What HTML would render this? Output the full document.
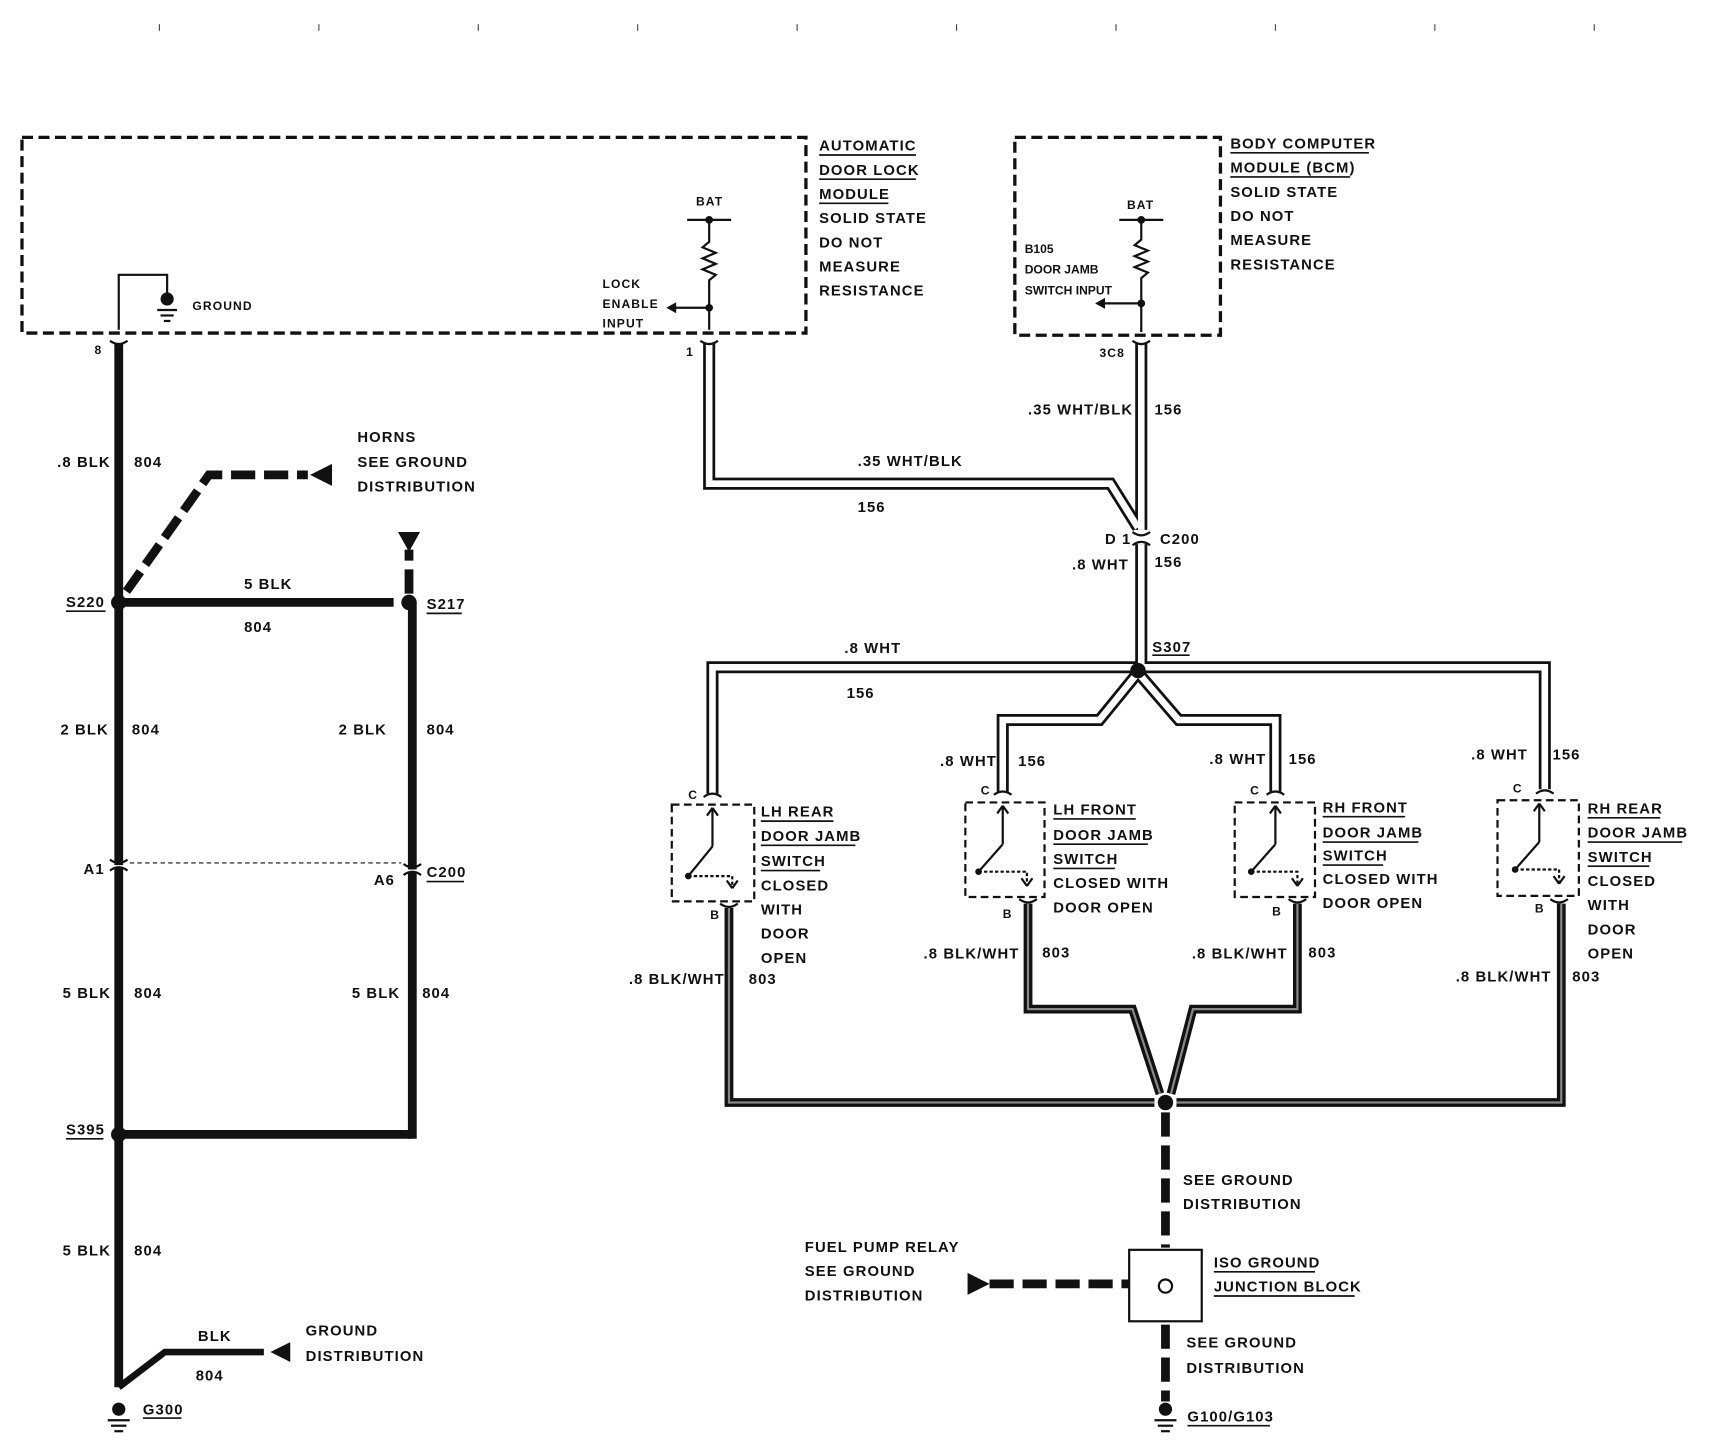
<!DOCTYPE html>
<html><head><meta charset="utf-8"><style>
html,body{margin:0;padding:0;background:#fff;}
svg{display:block}
text{font-family:"Liberation Sans",sans-serif;font-weight:bold;font-size:13.5px;fill:#111;letter-spacing:1px}
.s{font-size:11px}
</style></head><body>
<svg width="1724" height="1440" viewBox="0 0 1568 1310" preserveAspectRatio="none" xmlns="http://www.w3.org/2000/svg">
<rect width="1568" height="1310" fill="#fff"/>
<g stroke="#444" stroke-width="1">
<line x1="145" y1="22" x2="145" y2="28"/><line x1="290" y1="22" x2="290" y2="28"/><line x1="435" y1="22" x2="435" y2="28"/><line x1="580" y1="22" x2="580" y2="28"/><line x1="725" y1="22" x2="725" y2="28"/><line x1="870" y1="22" x2="870" y2="28"/><line x1="1015" y1="22" x2="1015" y2="28"/><line x1="1160" y1="22" x2="1160" y2="28"/><line x1="1305" y1="22" x2="1305" y2="28"/><line x1="1450" y1="22" x2="1450" y2="28"/>
</g>
<!-- module boxes -->
<g fill="none" stroke="#111" stroke-width="3" stroke-dasharray="10,5">
<rect x="20" y="125" width="713" height="178"/>
<rect x="923" y="125" width="187" height="180"/>
<rect x="611" y="732" width="75" height="88" stroke-width="2" stroke-dasharray="7,4"/>
<rect x="878" y="730" width="72" height="86" stroke-width="2" stroke-dasharray="7,4"/>
<rect x="1123" y="730" width="73" height="86" stroke-width="2" stroke-dasharray="7,4"/>
<rect x="1362" y="728" width="74" height="87" stroke-width="2" stroke-dasharray="7,4"/>
</g>
<!-- module text -->
<text x="745" y="137">AUTOMATIC</text><text x="745" y="159">DOOR LOCK</text><text x="745" y="181">MODULE</text>
<g stroke="#111" stroke-width="1.5"><line x1="745" y1="141" x2="833" y2="141"/><line x1="745" y1="163" x2="833" y2="163"/><line x1="745" y1="185" x2="808" y2="185"/>
<line x1="1119" y1="139" x2="1245" y2="139"/><line x1="1119" y1="161" x2="1228" y2="161"/></g>
<text x="745" y="203">SOLID STATE</text><text x="745" y="225">DO NOT</text><text x="745" y="247">MEASURE</text><text x="745" y="269">RESISTANCE</text>
<text x="1119" y="135">BODY COMPUTER</text><text x="1119" y="157">MODULE (BCM)</text><text x="1119" y="179">SOLID STATE</text><text x="1119" y="201">DO NOT</text><text x="1119" y="223">MEASURE</text><text x="1119" y="245">RESISTANCE</text>
<!-- inside ADLM -->
<g stroke="#111" stroke-width="2" fill="none">
<polyline points="108,300 108,250 152,250 152,268"/>
<line x1="143" y1="282" x2="161" y2="282"/><line x1="146" y1="287" x2="158" y2="287"/><line x1="149" y1="292" x2="155" y2="292"/>
<line x1="625" y1="200" x2="665" y2="200"/>
<polyline points="645,200 645,220 639,225 651,230 639,235 651,240 639,245 651,250 645,255 645,300"/>
<line x1="645" y1="280" x2="612" y2="280"/>
<line x1="1018" y1="200" x2="1058" y2="200"/>
<polyline points="1038,200 1038,218 1032,223 1044,228 1032,233 1044,238 1032,243 1044,248 1038,253 1038,302"/>
<line x1="1038" y1="276" x2="1002" y2="276"/>
</g>
<circle cx="152" cy="272" r="6" fill="#111"/>
<circle cx="645" cy="200" r="3.5" fill="#111"/><circle cx="645" cy="280" r="3.5" fill="#111"/>
<circle cx="1038" cy="200" r="3.5" fill="#111"/><circle cx="1038" cy="276" r="3.5" fill="#111"/>
<polygon points="606,280 615,275 615,285" fill="#111"/><polygon points="996,276 1005,271 1005,281" fill="#111"/>
<text x="175" y="282" class="s">GROUND</text>
<text x="633" y="187" class="s">BAT</text><text x="1025" y="190" class="s">BAT</text>
<text x="548" y="262" class="s">LOCK</text><text x="548" y="280" class="s">ENABLE</text><text x="548" y="298" class="s">INPUT</text>
<text x="932" y="230" class="s" style="letter-spacing:0">B105</text><text x="932" y="249" class="s" style="letter-spacing:0">DOOR JAMB</text><text x="932" y="268" class="s" style="letter-spacing:0">SWITCH INPUT</text>
<!-- left black wires -->
<g stroke="#111" stroke-width="8" fill="none">
<line x1="108" y1="312" x2="108" y2="1262"/>
<line x1="375" y1="548" x2="375" y2="1036"/>
<line x1="108" y1="548" x2="358" y2="548"/>
<line x1="108" y1="1032" x2="375" y2="1032"/>
<polyline points="108,1262 150,1230 240,1230" stroke-width="6"/>
</g>
<g stroke="#111" stroke-width="8" fill="none" stroke-dasharray="22,8">
<polyline points="115,538 190,432 280,432"/>
<line x1="372" y1="540" x2="372" y2="500"/>
</g>
<polygon points="282,432 302,422 302,442" fill="#111"/>
<polygon points="362,484 382,484 372,502" fill="#111"/>
<polygon points="246,1230 264,1221 264,1239" fill="#111"/>
<line x1="118" y1="785" x2="365" y2="785" stroke="#111" stroke-width="1" stroke-dasharray="4,3"/>
<g fill="#111"><circle cx="108" cy="548" r="7"/><circle cx="372" cy="548" r="7"/><circle cx="108" cy="1032" r="7"/></g>
<g stroke="#fff" stroke-width="2"><line x1="100" y1="788" x2="116" y2="788"/><line x1="367" y1="792" x2="383" y2="792"/></g>
<g stroke="#111" stroke-width="2" fill="none"><path d="M100,782 q8,6 16,0"/><path d="M100,792 q8,-6 16,0"/><path d="M367,786 q8,6 16,0"/><path d="M367,796 q8,-6 16,0"/><path d="M100,310 q8,6 16,0"/></g>
<!-- grounds -->
<g stroke="#111" stroke-width="2"><line x1="98" y1="1292" x2="118" y2="1292"/><line x1="101" y1="1297" x2="115" y2="1297"/><line x1="104" y1="1302" x2="112" y2="1302"/>
<line x1="1050" y1="1292" x2="1070" y2="1292"/><line x1="1053" y1="1297" x2="1067" y2="1297"/><line x1="1056" y1="1302" x2="1064" y2="1302"/></g>
<circle cx="108" cy="1282" r="6" fill="#111"/><circle cx="1060" cy="1282" r="6" fill="#111"/>
<!-- left labels -->
<text x="86" y="322" class="s">8</text>
<text x="52" y="425">.8 BLK</text><text x="122" y="425">804</text>
<text x="325" y="402">HORNS</text><text x="325" y="425">SEE GROUND</text><text x="325" y="447">DISTRIBUTION</text>
<text x="60" y="552">S220</text><text x="388" y="554">S217</text>
<g stroke="#111" stroke-width="1.5"><line x1="60" y1="556" x2="96" y2="556"/><line x1="388" y1="558" x2="420" y2="558"/><line x1="388" y1="802" x2="422" y2="802"/><line x1="60" y1="1036" x2="94" y2="1036"/><line x1="130" y1="1290" x2="165" y2="1290"/><line x1="1104" y1="1157" x2="1196" y2="1157"/><line x1="1104" y1="1179" x2="1232" y2="1179"/><line x1="1080" y1="1297" x2="1155" y2="1297"/><line x1="1048" y1="596" x2="1082" y2="596"/></g>
<text x="222" y="536">5 BLK</text><text x="222" y="575">804</text>
<text x="55" y="668">2 BLK</text><text x="120" y="668">804</text><text x="308" y="668">2 BLK</text><text x="388" y="668">804</text>
<text x="76" y="795">A1</text><text x="340" y="805">A6</text><text x="388" y="798">C200</text>
<text x="57" y="908">5 BLK</text><text x="122" y="908">804</text><text x="320" y="908">5 BLK</text><text x="384" y="908">804</text>
<text x="60" y="1032">S395</text>
<text x="57" y="1142">5 BLK</text><text x="122" y="1142">804</text>
<text x="180" y="1220">BLK</text><text x="178" y="1256">804</text>
<text x="278" y="1215">GROUND</text><text x="278" y="1238">DISTRIBUTION</text>
<text x="130" y="1287">G300</text>
<!-- double (white) wires -->
<g fill="none" stroke-linejoin="miter">
<g stroke="#111" stroke-width="11">
<polyline points="645,312 645,440 1010,440 1035,480"/>
<line x1="1038" y1="312" x2="1038" y2="482"/>
<line x1="1038" y1="495" x2="1038" y2="610"/>
<polyline points="648,722 648,607 1405,607 1405,718"/>
<polyline points="1035,612 1000,655 912,655 912,720"/>
<polyline points="1035,612 1072,655 1160,655 1160,720"/>
</g>
<g stroke="#fff" stroke-width="6">
<polyline points="645,312 645,440 1010,440 1035,480"/>
<line x1="1038" y1="312" x2="1038" y2="482"/>
<line x1="1038" y1="495" x2="1038" y2="610"/>
<polyline points="648,722 648,607 1405,607 1405,718"/>
<polyline points="1035,612 1000,655 912,655 912,720"/>
<polyline points="1035,612 1072,655 1160,655 1160,720"/>
</g>
</g>
<g stroke="#111" stroke-width="2" fill="none"><path d="M637,310 q8,6 16,0"/><path d="M1030,310 q8,6 16,0"/><path d="M1030,484 q8,6 16,0"/><path d="M1030,496 q8,-6 16,0"/>
<path d="M640,725 q8,-6 16,0"/><path d="M904,723 q8,-6 16,0"/><path d="M1152,723 q8,-6 16,0"/><path d="M1397,722 q8,-6 16,0"/>
<path d="M655,822 q8,6 16,0"/><path d="M927,818 q8,6 16,0"/><path d="M1172,818 q8,6 16,0"/><path d="M1410,818 q8,6 16,0"/></g>
<circle cx="1035" cy="610" r="7" fill="#111"/>
<!-- ground bottom wires -->
<g fill="none" stroke="#111" stroke-width="8">
<polyline points="663,826 663,1003 1050,1003"/>
<polyline points="935,822 935,918 1030,918 1055,995"/>
<polyline points="1180,822 1180,918 1085,918 1065,995"/>
<polyline points="1420,822 1420,1003 1070,1003"/>
</g>
<g fill="none" stroke="#888" stroke-width="2">
<polyline points="663,826 663,1003 1050,1003"/>
<polyline points="935,822 935,918 1030,918 1055,995"/>
<polyline points="1180,822 1180,918 1085,918 1065,995"/>
<polyline points="1420,822 1420,1003 1070,1003"/>
</g>
<circle cx="1060" cy="1003" r="7" fill="#111"/>
<g stroke="#111" stroke-width="8" stroke-dasharray="22,8"><line x1="1060" y1="1012" x2="1060" y2="1135"/><line x1="1060" y1="1205" x2="1060" y2="1275"/><line x1="900" y1="1168" x2="1027" y2="1168"/></g>
<polygon points="880,1158 880,1178 900,1168" fill="#111"/>
<rect x="1027" y="1137" width="66" height="65" fill="#fff" stroke="#111" stroke-width="2"/>
<circle cx="1060" cy="1170" r="6" fill="#fff" stroke="#111" stroke-width="2"/>
<!-- switch internals -->
<g stroke="#111" stroke-width="2" fill="none">
<g transform="translate(648,735)"><line x1="0" y1="0" x2="0" y2="35"/><line x1="0" y1="35" x2="-22" y2="62"/><path d="M-22,62 L18,62 L18,72" stroke-dasharray="3,2"/><line x1="-5" y1="7" x2="0" y2="0"/><line x1="5" y1="7" x2="0" y2="0"/><line x1="13" y1="66" x2="18" y2="73"/><line x1="23" y1="66" x2="18" y2="73"/></g>
<g transform="translate(912,733)"><line x1="0" y1="0" x2="0" y2="35"/><line x1="0" y1="35" x2="-22" y2="60"/><path d="M-22,60 L22,60 L22,72" stroke-dasharray="3,2"/><line x1="-5" y1="7" x2="0" y2="0"/><line x1="5" y1="7" x2="0" y2="0"/><line x1="17" y1="66" x2="22" y2="73"/><line x1="27" y1="66" x2="22" y2="73"/></g>
<g transform="translate(1160,733)"><line x1="0" y1="0" x2="0" y2="35"/><line x1="0" y1="35" x2="-22" y2="60"/><path d="M-22,60 L20,60 L20,72" stroke-dasharray="3,2"/><line x1="-5" y1="7" x2="0" y2="0"/><line x1="5" y1="7" x2="0" y2="0"/><line x1="15" y1="66" x2="20" y2="73"/><line x1="25" y1="66" x2="20" y2="73"/></g>
<g transform="translate(1400,731)"><line x1="0" y1="0" x2="0" y2="35"/><line x1="0" y1="35" x2="-22" y2="60"/><path d="M-22,60 L18,60 L18,72" stroke-dasharray="3,2"/><line x1="-5" y1="7" x2="0" y2="0"/><line x1="5" y1="7" x2="0" y2="0"/><line x1="13" y1="66" x2="18" y2="73"/><line x1="23" y1="66" x2="18" y2="73"/></g>
</g>
<g fill="#111"><circle cx="626" cy="797" r="3"/><circle cx="890" cy="793" r="3"/><circle cx="1138" cy="793" r="3"/><circle cx="1378" cy="791" r="3"/></g>
<!-- right labels -->
<text x="624" y="324" class="s">1</text><text x="1000" y="325" class="s">3C8</text>
<text x="780" y="424">.35 WHT/BLK</text><text x="780" y="466">156</text>
<text x="935" y="377">.35 WHT/BLK</text><text x="1050" y="377">156</text>
<text x="1005" y="495">D 1</text><text x="1055" y="495">C200</text><text x="975" y="518">.8 WHT</text><text x="1050" y="516">156</text>
<text x="1048" y="593">S307</text>
<text x="768" y="594">.8 WHT</text><text x="770" y="635">156</text>
<text x="855" y="697">.8 WHT</text><text x="926" y="697">156</text><text x="1100" y="695">.8 WHT</text><text x="1172" y="695">156</text><text x="1338" y="691">.8 WHT</text><text x="1412" y="691">156</text>
<text x="626" y="727" class="s">C</text><text x="892" y="723" class="s">C</text><text x="1137" y="723" class="s">C</text><text x="1376" y="721" class="s">C</text>
<text x="646" y="836" class="s">B</text><text x="912" y="835" class="s">B</text><text x="1157" y="833" class="s">B</text><text x="1396" y="830" class="s">B</text>
<text x="692" y="743">LH REAR</text><text x="692" y="765">DOOR JAMB</text><text x="692" y="788">SWITCH</text><text x="692" y="810">CLOSED</text><text x="692" y="832">WITH</text><text x="692" y="854">DOOR</text><text x="692" y="876">OPEN</text>
<text x="958" y="741">LH FRONT</text><text x="958" y="764">DOOR JAMB</text><text x="958" y="786">SWITCH</text><text x="958" y="808">CLOSED WITH</text><text x="958" y="830">DOOR OPEN</text>
<text x="1203" y="739">RH FRONT</text><text x="1203" y="762">DOOR JAMB</text><text x="1203" y="783">SWITCH</text><text x="1203" y="804">CLOSED WITH</text><text x="1203" y="826">DOOR OPEN</text>
<text x="1444" y="740">RH REAR</text><text x="1444" y="762">DOOR JAMB</text><text x="1444" y="784">SWITCH</text><text x="1444" y="806">CLOSED</text><text x="1444" y="828">WITH</text><text x="1444" y="850">DOOR</text><text x="1444" y="872">OPEN</text>
<g stroke="#111" stroke-width="1.5">
<line x1="692" y1="747" x2="758" y2="747"/><line x1="692" y1="769" x2="778" y2="769"/><line x1="692" y1="792" x2="746" y2="792"/>
<line x1="958" y1="745" x2="1033" y2="745"/><line x1="958" y1="768" x2="1044" y2="768"/><line x1="958" y1="790" x2="1014" y2="790"/>
<line x1="1203" y1="743" x2="1278" y2="743"/><line x1="1203" y1="766" x2="1290" y2="766"/><line x1="1203" y1="787" x2="1258" y2="787"/>
<line x1="1444" y1="744" x2="1510" y2="744"/><line x1="1444" y1="766" x2="1530" y2="766"/><line x1="1444" y1="788" x2="1500" y2="788"/>
</g>
<text x="572" y="895">.8 BLK/WHT</text><text x="681" y="895">803</text>
<text x="840" y="872">.8 BLK/WHT</text><text x="948" y="871">803</text>
<text x="1084" y="872">.8 BLK/WHT</text><text x="1190" y="871">803</text>
<text x="1324" y="893">.8 BLK/WHT</text><text x="1430" y="893">803</text>
<text x="1076" y="1078">SEE GROUND</text><text x="1076" y="1100">DISTRIBUTION</text>
<text x="1104" y="1153">ISO GROUND</text><text x="1104" y="1175">JUNCTION BLOCK</text>
<text x="732" y="1139">FUEL PUMP RELAY</text><text x="732" y="1161">SEE GROUND</text><text x="732" y="1183">DISTRIBUTION</text>
<text x="1079" y="1226">SEE GROUND</text><text x="1079" y="1249">DISTRIBUTION</text>
<text x="1080" y="1293">G100/G103</text>
</svg>
</body></html>
